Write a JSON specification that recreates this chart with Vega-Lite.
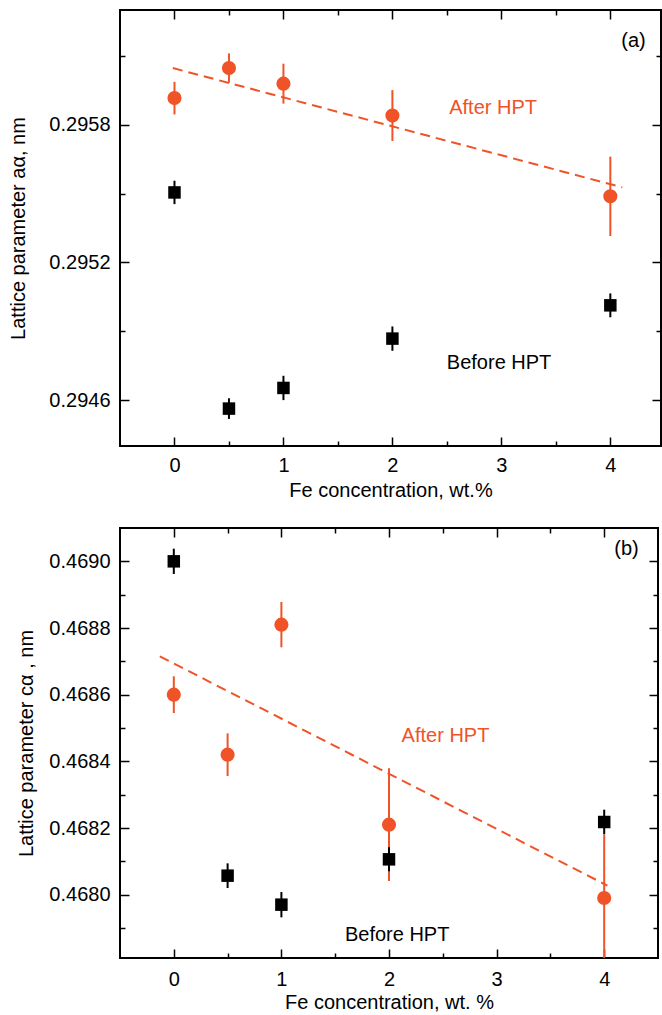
{
  "$schema": "https://vega.github.io/schema/vega-lite/v6.json",
  "padding": {"left": 7, "top": 8, "right": 0, "bottom": 0},
  "spacing": 25,
  "config": {
    "font": "Liberation Sans",
    "view": {"stroke": "black", "strokeWidth": 2},
    "axis": {"grid": false, "domain": false, "tickColor": "black", "tickWidth": 1.5, "labelFontSize": 20, "titleFontSize": 20, "titleFontWeight": "normal", "labelColor": "black", "titleColor": "black", "labelFlush": false, "labelOverlap": false},
    "text": {"fontSize": 20}
  },
  "datasets": {
    "a_pts": [
      {"x": 0, "y": 0.295916, "lo": 0.295845, "hi": 0.295987, "series": "After HPT"},
      {"x": 0.5, "y": 0.296047, "lo": 0.295983, "hi": 0.296111, "series": "After HPT"},
      {"x": 1, "y": 0.295979, "lo": 0.295892, "hi": 0.296066, "series": "After HPT"},
      {"x": 2, "y": 0.29584, "lo": 0.295729, "hi": 0.295951, "series": "After HPT"},
      {"x": 4, "y": 0.295488, "lo": 0.295315, "hi": 0.295661, "series": "After HPT"},
      {"x": 0, "y": 0.295505, "lo": 0.295454, "hi": 0.295556, "series": "Before HPT"},
      {"x": 0.5, "y": 0.294563, "lo": 0.294518, "hi": 0.294608, "series": "Before HPT"},
      {"x": 1, "y": 0.294653, "lo": 0.2946, "hi": 0.294706, "series": "Before HPT"},
      {"x": 2, "y": 0.294868, "lo": 0.294815, "hi": 0.294921, "series": "Before HPT"},
      {"x": 4, "y": 0.295013, "lo": 0.294961, "hi": 0.295065, "series": "Before HPT"}
    ],
    "a_line": [
      {"x": -0.015, "y": 0.296047},
      {"x": 4.11, "y": 0.295527}
    ],
    "a_text": [
      {"x": 4.213, "y": 0.296166, "label": "(a)", "series": "label"},
      {"x": 2.924, "y": 0.295872, "label": "After HPT", "series": "After HPT"},
      {"x": 2.979, "y": 0.294761, "label": "Before HPT", "series": "Before HPT"}
    ],
    "b_pts": [
      {"x": 0, "y": 0.4686, "lo": 0.468545, "hi": 0.468655, "series": "After HPT"},
      {"x": 0.5, "y": 0.46842, "lo": 0.468356, "hi": 0.468484, "series": "After HPT"},
      {"x": 1, "y": 0.46881, "lo": 0.468742, "hi": 0.468878, "series": "After HPT"},
      {"x": 2, "y": 0.46821, "lo": 0.468041, "hi": 0.468379, "series": "After HPT"},
      {"x": 4, "y": 0.46799, "lo": 0.4678, "hi": 0.46818, "series": "After HPT"},
      {"x": 0, "y": 0.469, "lo": 0.468962, "hi": 0.469038, "series": "Before HPT"},
      {"x": 0.5, "y": 0.468057, "lo": 0.46802, "hi": 0.468094, "series": "Before HPT"},
      {"x": 1, "y": 0.46797, "lo": 0.467932, "hi": 0.468008, "series": "Before HPT"},
      {"x": 2, "y": 0.468106, "lo": 0.46807, "hi": 0.468142, "series": "Before HPT"},
      {"x": 4, "y": 0.468218, "lo": 0.468181, "hi": 0.468255, "series": "Before HPT"}
    ],
    "b_line": [
      {"x": -0.13, "y": 0.468715},
      {"x": 4.03, "y": 0.468027}
    ],
    "b_text": [
      {"x": 4.207, "y": 0.469038, "label": "(b)", "series": "label"},
      {"x": 2.525, "y": 0.468475, "label": "After HPT", "series": "After HPT"},
      {"x": 2.076, "y": 0.46788, "label": "Before HPT", "series": "Before HPT"}
    ]
  },
  "vconcat": [
    {
      "width": 541,
      "height": 436,
      "resolve": {"axis": {"x": "independent", "y": "independent"}},
      "layer": [
        {
          "data": {"name": "a_pts"},
          "mark": {"type": "rule", "strokeWidth": 2, "clip": true},
          "encoding": {
            "x": {"field": "x", "type": "quantitative", "scale": {"domain": [-0.5, 4.465], "nice": false, "zero": false},
                  "axis": {"orient": "bottom", "values": [0, 1, 2, 3, 4], "format": "d", "tickSize": -9, "labelPadding": 18, "title": "Fe concentration, wt.%", "titlePadding": 5}},
            "y": {"field": "lo", "type": "quantitative", "scale": {"domain": [0.2944, 0.2963], "nice": false, "zero": false},
                  "axis": {"orient": "left", "values": [0.2946, 0.2952, 0.2958], "format": ".4f", "tickSize": -9, "labelPadding": 19, "title": "Lattice parameter aα, nm", "titlePadding": 20}},
            "y2": {"field": "hi"},
            "color": {"field": "series", "type": "nominal", "scale": {"domain": ["After HPT", "Before HPT", "label"], "range": ["#EF5327", "#000000", "#000000"]}, "legend": null}
          }
        },
        {
          "data": {"name": "a_line"},
          "mark": {"type": "line", "strokeWidth": 2, "strokeDash": [10, 6], "color": "#EF5327"},
          "encoding": {
            "x": {"field": "x", "type": "quantitative", "scale": {"domain": [-0.5, 4.465], "nice": false, "zero": false},
                  "axis": {"orient": "top", "values": [0, 1, 2, 3, 4], "tickSize": -9, "labels": false, "title": null}},
            "y": {"field": "y", "type": "quantitative", "scale": {"domain": [0.2944, 0.2963], "nice": false, "zero": false},
                  "axis": {"orient": "right", "values": [0.2946, 0.2952, 0.2958], "tickSize": -9, "labels": false, "title": null}}
          }
        },
        {
          "data": {"name": "a_pts"},
          "transform": [{"filter": {"field": "series", "equal": "After HPT"}}],
          "mark": {"type": "point", "shape": "circle", "filled": true, "size": 200, "opacity": 1},
          "encoding": {
            "x": {"field": "x", "type": "quantitative", "scale": {"domain": [-0.5, 4.465], "nice": false, "zero": false},
                  "axis": {"orient": "bottom", "values": [0.5, 1.5, 2.5, 3.5], "tickSize": -5, "labels": false, "title": null}},
            "y": {"field": "y", "type": "quantitative", "scale": {"domain": [0.2944, 0.2963], "nice": false, "zero": false},
                  "axis": {"orient": "left", "values": [0.2949, 0.2955, 0.2961], "tickSize": -5, "labels": false, "title": null}},
            "color": {"field": "series", "type": "nominal", "scale": {"domain": ["After HPT", "Before HPT", "label"], "range": ["#EF5327", "#000000", "#000000"]}, "legend": null}
          }
        },
        {
          "data": {"name": "a_pts"},
          "transform": [{"filter": {"field": "series", "equal": "Before HPT"}}],
          "mark": {"type": "point", "shape": "square", "filled": true, "size": 156, "opacity": 1},
          "encoding": {
            "x": {"field": "x", "type": "quantitative", "scale": {"domain": [-0.5, 4.465], "nice": false, "zero": false},
                  "axis": {"orient": "top", "values": [0.5, 1.5, 2.5, 3.5], "tickSize": -5, "labels": false, "title": null}},
            "y": {"field": "y", "type": "quantitative", "scale": {"domain": [0.2944, 0.2963], "nice": false, "zero": false},
                  "axis": {"orient": "right", "values": [0.2949, 0.2955, 0.2961], "tickSize": -5, "labels": false, "title": null}},
            "color": {"field": "series", "type": "nominal", "scale": {"domain": ["After HPT", "Before HPT", "label"], "range": ["#EF5327", "#000000", "#000000"]}, "legend": null}
          }
        },
        {
          "data": {"name": "a_text"},
          "mark": {"type": "text", "fontSize": 20, "baseline": "middle", "align": "center"},
          "encoding": {
            "x": {"field": "x", "type": "quantitative", "scale": {"domain": [-0.5, 4.465], "nice": false, "zero": false}, "axis": null},
            "y": {"field": "y", "type": "quantitative", "scale": {"domain": [0.2944, 0.2963], "nice": false, "zero": false}, "axis": null},
            "text": {"field": "label"},
            "color": {"field": "series", "type": "nominal", "scale": {"domain": ["After HPT", "Before HPT", "label"], "range": ["#EF5327", "#000000", "#000000"]}, "legend": null}
          }
        }
      ]
    },
    {
      "width": 538,
      "height": 430,
      "resolve": {"axis": {"x": "independent", "y": "independent"}},
      "layer": [
        {
          "data": {"name": "b_pts"},
          "mark": {"type": "rule", "strokeWidth": 2, "clip": true},
          "encoding": {
            "x": {"field": "x", "type": "quantitative", "scale": {"domain": [-0.5, 4.5], "nice": false, "zero": false},
                  "axis": {"orient": "bottom", "values": [0, 1, 2, 3, 4], "format": "d", "tickSize": -9, "labelPadding": 20.5, "title": "Fe concentration, wt. %", "titlePadding": 3.3}},
            "y": {"field": "lo", "type": "quantitative", "scale": {"domain": [0.46781, 0.4691], "nice": false, "zero": false},
                  "axis": {"orient": "left", "values": [0.468, 0.4682, 0.4684, 0.4686, 0.4688, 0.469], "format": ".4f", "tickSize": -9, "labelPadding": 19, "title": "Lattice parameter cα , nm", "titlePadding": 12}},
            "y2": {"field": "hi"},
            "color": {"field": "series", "type": "nominal", "scale": {"domain": ["After HPT", "Before HPT", "label"], "range": ["#EF5327", "#000000", "#000000"]}, "legend": null}
          }
        },
        {
          "data": {"name": "b_line"},
          "mark": {"type": "line", "strokeWidth": 2, "strokeDash": [10, 6], "color": "#EF5327"},
          "encoding": {
            "x": {"field": "x", "type": "quantitative", "scale": {"domain": [-0.5, 4.5], "nice": false, "zero": false},
                  "axis": {"orient": "top", "values": [0, 1, 2, 3, 4], "tickSize": -9, "labels": false, "title": null}},
            "y": {"field": "y", "type": "quantitative", "scale": {"domain": [0.46781, 0.4691], "nice": false, "zero": false},
                  "axis": {"orient": "right", "values": [0.468, 0.4682, 0.4684, 0.4686, 0.4688, 0.469], "tickSize": -9, "labels": false, "title": null}}
          }
        },
        {
          "data": {"name": "b_pts"},
          "transform": [{"filter": {"field": "series", "equal": "After HPT"}}],
          "mark": {"type": "point", "shape": "circle", "filled": true, "size": 200, "opacity": 1},
          "encoding": {
            "x": {"field": "x", "type": "quantitative", "scale": {"domain": [-0.5, 4.5], "nice": false, "zero": false},
                  "axis": {"orient": "bottom", "values": [0.5, 1.5, 2.5, 3.5], "tickSize": -5, "labels": false, "title": null}},
            "y": {"field": "y", "type": "quantitative", "scale": {"domain": [0.46781, 0.4691], "nice": false, "zero": false},
                  "axis": {"orient": "left", "values": [0.4679, 0.4681, 0.4683, 0.4685, 0.4687, 0.4689], "tickSize": -5, "labels": false, "title": null}},
            "color": {"field": "series", "type": "nominal", "scale": {"domain": ["After HPT", "Before HPT", "label"], "range": ["#EF5327", "#000000", "#000000"]}, "legend": null}
          }
        },
        {
          "data": {"name": "b_pts"},
          "transform": [{"filter": {"field": "series", "equal": "Before HPT"}}],
          "mark": {"type": "point", "shape": "square", "filled": true, "size": 156, "opacity": 1},
          "encoding": {
            "x": {"field": "x", "type": "quantitative", "scale": {"domain": [-0.5, 4.5], "nice": false, "zero": false},
                  "axis": {"orient": "top", "values": [0.5, 1.5, 2.5, 3.5], "tickSize": -5, "labels": false, "title": null}},
            "y": {"field": "y", "type": "quantitative", "scale": {"domain": [0.46781, 0.4691], "nice": false, "zero": false},
                  "axis": {"orient": "right", "values": [0.4679, 0.4681, 0.4683, 0.4685, 0.4687, 0.4689], "tickSize": -5, "labels": false, "title": null}},
            "color": {"field": "series", "type": "nominal", "scale": {"domain": ["After HPT", "Before HPT", "label"], "range": ["#EF5327", "#000000", "#000000"]}, "legend": null}
          }
        },
        {
          "data": {"name": "b_text"},
          "mark": {"type": "text", "fontSize": 20, "baseline": "middle", "align": "center"},
          "encoding": {
            "x": {"field": "x", "type": "quantitative", "scale": {"domain": [-0.5, 4.5], "nice": false, "zero": false}, "axis": null},
            "y": {"field": "y", "type": "quantitative", "scale": {"domain": [0.46781, 0.4691], "nice": false, "zero": false}, "axis": null},
            "text": {"field": "label"},
            "color": {"field": "series", "type": "nominal", "scale": {"domain": ["After HPT", "Before HPT", "label"], "range": ["#EF5327", "#000000", "#000000"]}, "legend": null}
          }
        }
      ]
    }
  ]
}
